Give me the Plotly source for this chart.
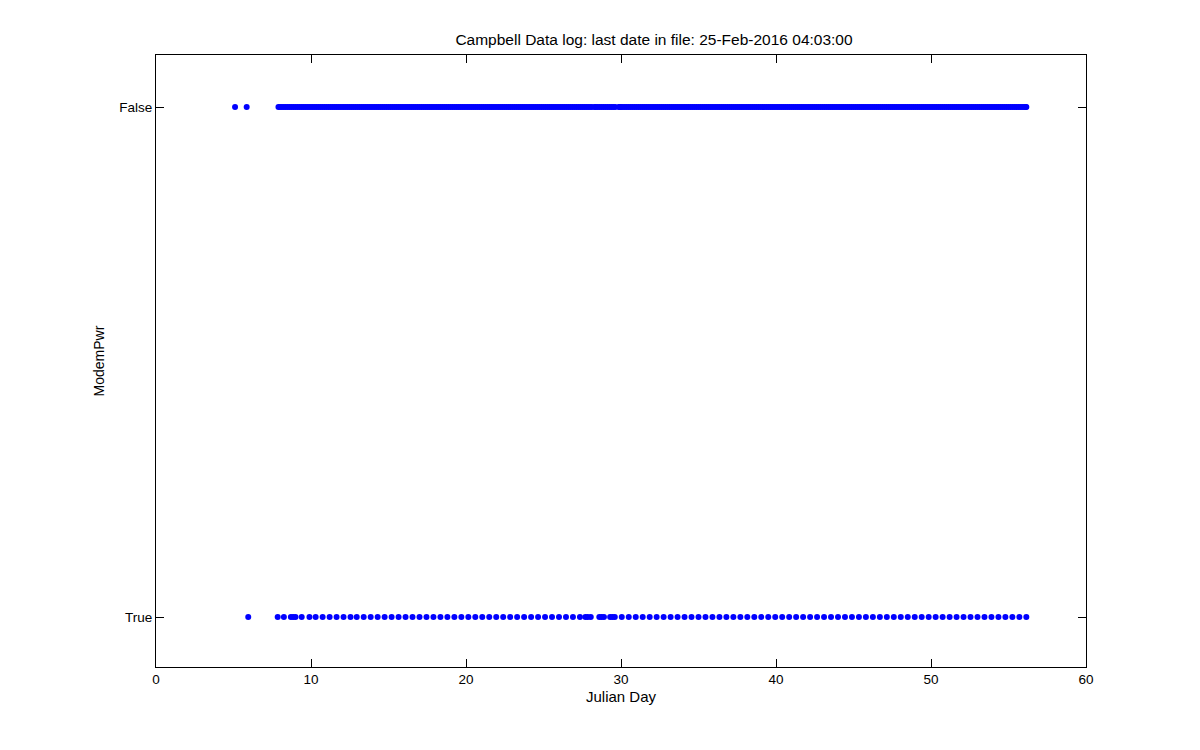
import plotly.graph_objects as go

title_text = "Campbell Data log: last date in file: 25-Feb-2016 04:03:00"
x_label = "Julian Day"
y_label = "ModemPwr"
y_tick_vals = [0, 1]
y_tick_text = ["True", "False"]

# Days where ModemPwr logged as False (y = 1)
false_days = [
    5.1, 5.85,
    7.9,
    8.0, 8.125, 8.25, 8.375, 8.5, 8.625, 8.75, 8.875,
    9.0, 9.125, 9.25, 9.375, 9.5, 9.625, 9.75, 9.875,
    10.0, 10.125, 10.25, 10.375, 10.5, 10.625, 10.75, 10.875,
    11.0, 11.125, 11.25, 11.375, 11.5, 11.625, 11.75, 11.875,
    12.0, 12.125, 12.25, 12.375, 12.5, 12.625, 12.75, 12.875,
    13.0, 13.125, 13.25, 13.375, 13.5, 13.625, 13.75, 13.875,
    14.0, 14.125, 14.25, 14.375, 14.5, 14.625, 14.75, 14.875,
    15.0, 15.125, 15.25, 15.375, 15.5, 15.625, 15.75, 15.875,
    16.0, 16.125, 16.25, 16.375, 16.5, 16.625, 16.75, 16.875,
    17.0, 17.125, 17.25, 17.375, 17.5, 17.625, 17.75, 17.875,
    18.0, 18.125, 18.25, 18.375, 18.5, 18.625, 18.75, 18.875,
    19.0, 19.125, 19.25, 19.375, 19.5, 19.625, 19.75, 19.875,
    20.0, 20.125, 20.25, 20.375, 20.5, 20.625, 20.75, 20.875,
    21.0, 21.125, 21.25, 21.375, 21.5, 21.625, 21.75, 21.875,
    22.0, 22.125, 22.25, 22.375, 22.5, 22.625, 22.75, 22.875,
    23.0, 23.125, 23.25, 23.375, 23.5, 23.625, 23.75, 23.875,
    24.0, 24.125, 24.25, 24.375, 24.5, 24.625, 24.75, 24.875,
    25.0, 25.125, 25.25, 25.375, 25.5, 25.625, 25.75, 25.875,
    26.0, 26.125, 26.25, 26.375, 26.5, 26.625, 26.75, 26.875,
    27.0, 27.125, 27.25, 27.375, 27.5, 27.625, 27.75, 27.875,
    28.0, 28.125, 28.3, 28.375, 28.5, 28.625, 28.75, 28.875,
    29.0, 29.125, 29.25, 29.375, 29.5, 29.625, 29.85, 29.95,
    30.0, 30.125, 30.25, 30.375, 30.5, 30.625, 30.75, 30.875,
    31.0, 31.125, 31.25, 31.375, 31.5, 31.625, 31.75, 31.875,
    32.0, 32.125, 32.25, 32.375, 32.5, 32.625, 32.75, 32.875,
    33.0, 33.125, 33.25, 33.375, 33.5, 33.625, 33.75, 33.875,
    34.0, 34.125, 34.25, 34.375, 34.5, 34.625, 34.75, 34.875,
    35.0, 35.125, 35.25, 35.375, 35.5, 35.625, 35.75, 35.875,
    36.0, 36.125, 36.25, 36.375, 36.5, 36.625, 36.75, 36.875,
    37.0, 37.125, 37.25, 37.375, 37.5, 37.625, 37.75, 37.875,
    38.0, 38.125, 38.25, 38.375, 38.5, 38.625, 38.75, 38.875,
    39.0, 39.125, 39.25, 39.375, 39.5, 39.625, 39.75, 39.875,
    40.0, 40.125, 40.25, 40.375, 40.5, 40.625, 40.75, 40.875,
    41.0, 41.125, 41.25, 41.375, 41.5, 41.625, 41.75, 41.875,
    42.0, 42.125, 42.25, 42.375, 42.5, 42.625, 42.75, 42.875,
    43.0, 43.125, 43.25, 43.375, 43.5, 43.625, 43.75, 43.875,
    44.0, 44.125, 44.25, 44.375, 44.5, 44.625, 44.75, 44.875,
    45.0, 45.125, 45.25, 45.375, 45.5, 45.625, 45.75, 45.875,
    46.0, 46.125, 46.25, 46.375, 46.5, 46.625, 46.75, 46.875,
    47.0, 47.125, 47.25, 47.375, 47.5, 47.625, 47.75, 47.875,
    48.0, 48.125, 48.25, 48.375, 48.5, 48.625, 48.75, 48.875,
    49.0, 49.125, 49.25, 49.375, 49.5, 49.625, 49.75, 49.875,
    50.0, 50.125, 50.25, 50.375, 50.5, 50.625, 50.75, 50.875,
    51.0, 51.125, 51.25, 51.375, 51.5, 51.625, 51.75, 51.875,
    52.0, 52.125, 52.25, 52.375, 52.5, 52.625, 52.75, 52.875,
    53.0, 53.125, 53.25, 53.375, 53.5, 53.625, 53.75, 53.875,
    54.0, 54.125, 54.25, 54.375, 54.5, 54.625, 54.75, 54.875,
    55.0, 55.125, 55.25, 55.375, 55.5, 55.625, 55.75, 55.875,
    56.0, 56.1, 56.15,
]

# Days where ModemPwr logged as True (y = 0)
true_days = [
    5.95, 7.85, 8.25, 8.7, 8.85, 9.0, 9.4, 9.9, 10.3, 10.75, 11.2, 11.65,
    12.1, 12.55, 12.95, 13.4, 13.85, 14.3, 14.75, 15.2, 15.65, 16.1, 16.55,
    17.0, 17.45, 17.9, 18.35, 18.8, 19.25, 19.7, 20.15, 20.6, 21.05, 21.5,
    21.95, 22.4, 22.85, 23.3, 23.75, 24.2, 24.65, 25.1, 25.55, 26.0, 26.45,
    26.9, 27.35, 27.7, 27.85, 28.05, 28.6, 28.75, 28.9, 29.3, 29.45, 29.6,
    30.05, 30.5, 30.95, 31.4, 31.85, 32.3, 32.75, 33.2, 33.65, 34.1, 34.55,
    35.0, 35.45, 35.9, 36.35, 36.8, 37.25, 37.7, 38.15, 38.6, 39.05, 39.5,
    39.95, 40.4, 40.85, 41.3, 41.75, 42.2, 42.65, 43.1, 43.55, 44.0, 44.45,
    44.9, 45.35, 45.8, 46.25, 46.7, 47.15, 47.6, 48.05, 48.5, 48.95, 49.4,
    49.85, 50.3, 50.75, 51.2, 51.65, 52.1, 52.55, 53.0, 53.45, 53.9, 54.35,
    54.8, 55.25, 55.7, 56.15,
]

x_all = false_days + true_days
y_all = [1] * len(false_days) + [0] * len(true_days)

fig = go.Figure()
fig.add_trace(go.Scatter(
    x=x_all, y=y_all, mode="markers",
    marker=dict(color="#0000FF", size=6, symbol="circle", line=dict(width=0)),
    showlegend=False, hoverinfo="x+y",
))

font = "Liberation Sans, Arial, sans-serif"
axis_common = dict(
    showline=True, linecolor="black", linewidth=1, mirror="ticks",
    ticks="inside", ticklen=8, tickcolor="black", tickwidth=1,
    showgrid=False, zeroline=False,
    tickfont=dict(family=font, size=13.5, color="black"),
)

fig.update_layout(
    width=1200, height=750,
    paper_bgcolor="white", plot_bgcolor="white",
    margin=dict(l=148, r=122, t=47, b=91),
    title=dict(text=title_text, x=646 / 1200, xanchor="center",
               y=1 - 32 / 750, yanchor="middle",
               font=dict(family=font, size=15.5, color="black")),
    xaxis=dict(range=[0, 60], tickvals=[0, 10, 20, 30, 40, 50, 60],
               title=dict(text=x_label, standoff=5,
                          font=dict(family=font, size=15, color="black")),
               **axis_common),
    yaxis=dict(range=[-0.098, 1.102], tickvals=y_tick_vals, ticktext=y_tick_text,
               title=dict(text=y_label, standoff=11,
                          font=dict(family=font, size=14, color="black")),
               **axis_common),
)

fig.write_html("out.html")
